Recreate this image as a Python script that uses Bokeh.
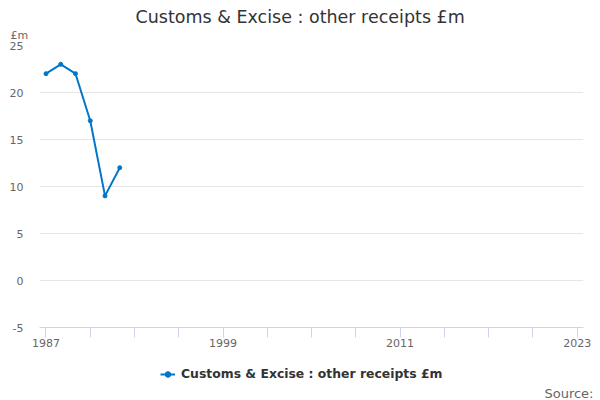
from bokeh.plotting import figure
from bokeh.layouts import column
from bokeh.models import FixedTicker, Legend, LegendItem, Range1d, Title
from bokeh.embed import file_html
from bokeh.resources import INLINE

# ---- data ----
years = [1987, 1988, 1989, 1990, 1991, 1992]
receipts = [22, 23, 22, 17, 9, 12]
series_name = "Customs & Excise : other receipts £m"
title_text = "Customs & Excise : other receipts £m"
y_unit = "£m"
source_text = "Source:"
x_label_ticks = [1987, 1999, 2011, 2023]
x_minor_ticks = [1990, 1993, 1996, 2002, 2005, 2008, 2014, 2017, 2020]
y_ticks = [-5, 0, 5, 10, 15, 20, 25]
y_tick_labels = ["-5", "0", "5", "10", "15", "20", "25"]

FONT = "DejaVu Sans"
BLUE = "#0077c8"
X0, X1 = 1986.56, 2023.43
Y0, Y1 = -5, 25

# ---------------- main chart ----------------
p = figure(width=600, height=354, output_backend="svg", toolbar_location=None,
           x_range=Range1d(X0, X1), y_range=Range1d(Y0, Y1),
           min_border_left=39, min_border_right=17, min_border_top=45, min_border_bottom=27)
p.title = None
p.outline_line_color = None
p.background_fill_color = "white"
p.border_fill_color = "white"

p.xgrid.visible = False
p.ygrid.ticker = FixedTicker(ticks=y_ticks)
p.ygrid.grid_line_color = "#e6e6e6"
p.ygrid.grid_line_width = 1

p.yaxis.ticker = FixedTicker(ticks=y_ticks)
p.yaxis.major_label_overrides = {t: s for t, s in zip(y_ticks, y_tick_labels)}
p.yaxis.axis_line_color = None
p.yaxis.major_tick_line_color = None
p.yaxis.minor_tick_line_color = None
p.yaxis.major_tick_out = 0
p.yaxis.major_tick_in = 0
p.yaxis.minor_tick_out = 0
p.yaxis.minor_tick_in = 0
p.yaxis.major_label_standoff = 16
p.yaxis.major_label_text_font = FONT
p.yaxis.major_label_text_font_size = "11px"
p.yaxis.major_label_text_color = "#666666"

p.xaxis.ticker = FixedTicker(ticks=x_label_ticks, minor_ticks=x_minor_ticks)
p.xaxis.axis_line_color = "#ccd6eb"
p.xaxis.major_tick_line_color = "#ccd6eb"
p.xaxis.minor_tick_line_color = "#ccd6eb"
p.xaxis.major_tick_out = 10
p.xaxis.major_tick_in = 0
p.xaxis.minor_tick_out = 10
p.xaxis.minor_tick_in = 0
p.xaxis.major_label_standoff = 1
p.xaxis.major_label_text_font = FONT
p.xaxis.major_label_text_font_size = "11px"
p.xaxis.major_label_text_color = "#666666"

p.line(years, receipts, line_color=BLUE, line_width=2)
p.scatter(years, receipts, size=4, fill_color=BLUE, line_color=BLUE)

p.add_layout(Title(text=y_unit, align="left", offset=-29, standoff=4,
                   vertical_align="top", text_font=FONT, text_font_size="11px",
                   text_font_style="normal", text_color="#666666"), "above")
p.add_layout(Title(text=title_text, align="left", offset=96, standoff=0,
                   vertical_align="bottom", text_font=FONT, text_font_size="17.5px",
                   text_font_style="normal", text_color="#333333"), "above")

# ---------------- legend + source strip ----------------
QH = 46
q = figure(width=600, height=QH, output_backend="svg", toolbar_location=None,
           x_range=Range1d(0, 1), y_range=Range1d(0, 1),
           x_axis_type=None, y_axis_type=None,
           min_border_left=39, min_border_right=17, min_border_top=0, min_border_bottom=17)
q.title = None
q.outline_line_color = None
q.background_fill_color = "white"
q.border_fill_color = "white"
q.grid.visible = False

lr = q.line(years, receipts, line_color=BLUE, line_width=2, visible=False)
sr = q.scatter(years, receipts, size=4, fill_color=BLUE, line_color=BLUE, visible=False)

legend = Legend(items=[LegendItem(label=series_name, renderers=[lr, sr])],
                location=(121, 2), orientation="horizontal",
                padding=0, margin=0, spacing=0,
                glyph_width=15, glyph_height=14, label_height=14, label_standoff=6,
                label_text_font=FONT, label_text_font_size="12.4px",
                label_text_font_style="bold", label_text_color="#333333",
                border_line_color=None, background_fill_alpha=0,
                inactive_fill_alpha=0)
q.add_layout(legend)

q.add_layout(Title(text=source_text, align="right", offset=-10, standoff=0,
                   vertical_align="bottom", text_font=FONT, text_font_size="13px",
                   text_font_style="normal", text_color="#666666"), "below")

open("out.html", "w").write(file_html(column(p, q, spacing=0), INLINE))
